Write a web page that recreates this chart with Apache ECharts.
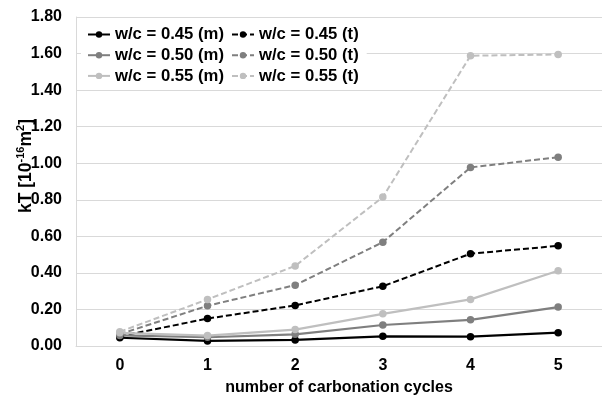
<!DOCTYPE html>
<html>
<head>
<meta charset="utf-8">
<script src="https://cdn.jsdelivr.net/npm/echarts@6/dist/echarts.min.js"></script>
<style>html,body{margin:0;padding:0;background:#fff;}#c{width:602px;height:401px;}</style>
</head>
<body>
<div id="c"></div>
<script>
var categories = ['0', '1', '2', '3', '4', '5'];
var yTicks = [0, 0.2, 0.4, 0.6, 0.8, 1.0, 1.2, 1.4, 1.6, 1.8];
var names = ['w/c = 0.45 (m)', 'w/c = 0.45 (t)', 'w/c = 0.50 (m)', 'w/c = 0.50 (t)', 'w/c = 0.55 (m)', 'w/c = 0.55 (t)'];
var wc045m = [0.045, 0.028, 0.033, 0.053, 0.051, 0.073];
var wc045t = [0.053, 0.150, 0.222, 0.327, 0.505, 0.548];
var wc050m = [0.058, 0.048, 0.064, 0.115, 0.143, 0.213];
var wc050t = [0.065, 0.220, 0.333, 0.568, 0.977, 1.033];
var wc055m = [0.072, 0.057, 0.090, 0.176, 0.255, 0.412];
var wc055t = [0.078, 0.255, 0.438, 0.815, 1.588, 1.595];
var xTitle = 'number of carbonation cycles';

var FONT = '"Liberation Sans", Arial, sans-serif';
var C_BLACK = '#000000', C_GRAY = '#7f7f7f', C_LIGHT = '#bfbfbf';

function mk(name, data, color, dashed) {
  return {
    name: name, type: 'line', data: data,
    symbol: 'circle', symbolSize: 7.5,
    itemStyle: { color: color },
    lineStyle: { color: color, width: dashed ? 2 : 2.2, type: dashed ? [6, 3] : 'solid' },
    emphasis: { disabled: true },
    animation: false
  };
}

var chart = echarts.init(document.getElementById('c'), null, { renderer: 'canvas' });
var legendCommon = {
  orient: 'vertical', top: 23.5, itemWidth: 22, itemHeight: 8, itemGap: 2.7,
  backgroundColor: '#ffffff', padding: [2, 8, 2, 6],
  textStyle: { fontFamily: FONT, fontWeight: 'bold', fontSize: 16.7, lineHeight: 18, color: '#000' }
};
chart.setOption({
  animation: false,
  grid: { left: 76, top: 17, width: 531, bottom: 51, containLabel: false },
  legend: [
    Object.assign({ left: 81, data: [names[0], names[2], names[4]] }, legendCommon),
    Object.assign({ left: 225, data: [names[1], names[3], names[5]] }, legendCommon)
  ],
  xAxis: {
    type: 'category', data: categories, boundaryGap: true,
    axisLine: { lineStyle: { color: '#d9d9d9', width: 1 } },
    axisTick: { show: false },
    axisLabel: { fontFamily: FONT, fontWeight: 'bold', fontSize: 16, color: '#000', margin: 12 },
    name: xTitle, nameLocation: 'middle', nameGap: 34,
    nameTextStyle: { fontFamily: FONT, fontWeight: 'bold', fontSize: 16, color: '#000' }
  },
  yAxis: {
    type: 'value', min: yTicks[0], max: yTicks[yTicks.length - 1], interval: 0.2,
    axisLine: { show: true, lineStyle: { color: '#d9d9d9', width: 1 } },
    axisTick: { show: false },
    splitLine: { lineStyle: { color: '#d9d9d9', width: 1 } },
    axisLabel: { fontFamily: FONT, fontWeight: 'bold', fontSize: 16, color: '#000', margin: 14,
      formatter: function (v) { return v.toFixed(2); } }
  },
  graphic: [{
    type: 'text', x: 25, y: 166, rotation: Math.PI / 2,
    style: {
      text: '{a|kT [10}{s|-16}{a|m}{s|2}{a|]}',
      align: 'center', verticalAlign: 'middle',
      rich: {
        a: { fontFamily: FONT, fontWeight: 'bold', fontSize: 17.5, color: '#000', lineHeight: 20, verticalAlign: 'bottom' },
        s: { fontFamily: FONT, fontWeight: 'bold', fontSize: 11, color: '#000', lineHeight: 20, verticalAlign: 'top', padding: [0, 0, 8, 0] }
      }
    }
  }],
  series: [
    mk(names[0], wc045m, C_BLACK, false),
    mk(names[1], wc045t, C_BLACK, true),
    mk(names[2], wc050m, C_GRAY, false),
    mk(names[3], wc050t, C_GRAY, true),
    mk(names[4], wc055m, C_LIGHT, false),
    mk(names[5], wc055t, C_LIGHT, true)
  ]
});
</script>
</body>
</html>
